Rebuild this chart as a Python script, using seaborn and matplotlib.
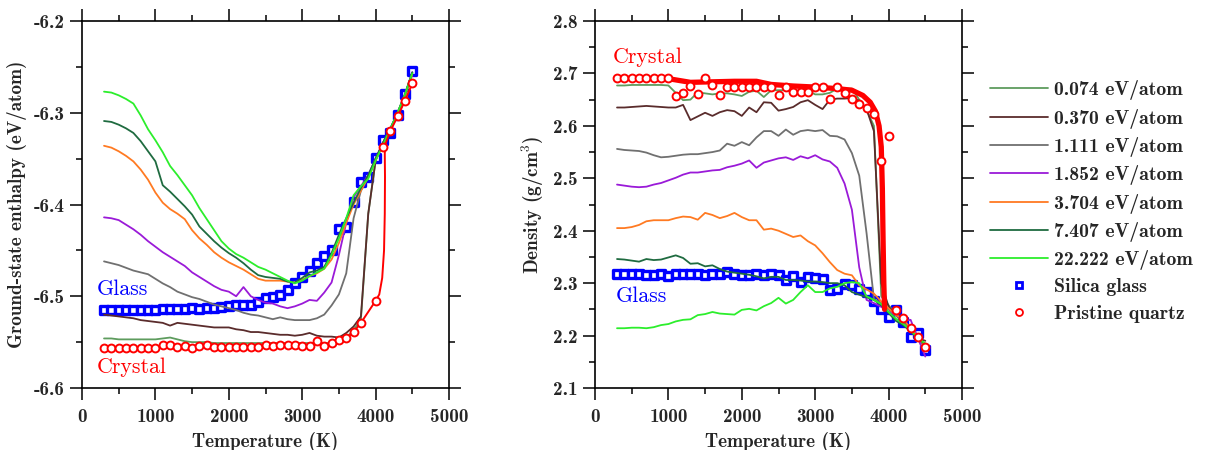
import numpy as np
import pandas as pd
import matplotlib
matplotlib.use("Agg")
import matplotlib.pyplot as plt
import seaborn as sns
from matplotlib.lines import Line2D
from matplotlib.ticker import MultipleLocator

# ---------------- data ----------------
temperature = list(range(300, 4600, 100))  # 43 points

doses = ["0.074 eV/atom", "0.370 eV/atom", "1.111 eV/atom", "1.852 eV/atom",
         "3.704 eV/atom", "7.407 eV/atom", "22.222 eV/atom"]
dose_colors = ["#5e9c5e", "#5a2c2c", "#707070", "#9a1ad8", "#ff7a22", "#1f6b40", "#2cee2c"]

# Ground-state enthalpy (eV/atom)
h_0074 = [-6.546, -6.546, -6.547, -6.547, -6.547, -6.547, -6.547, -6.547, -6.546, -6.545,
          -6.547, -6.549, -6.550, -6.550, -6.550, -6.551, -6.551, -6.551, -6.551, -6.551,
          -6.551, -6.551, -6.551, -6.551, -6.551, -6.551, -6.551, -6.551, -6.551, -6.551,
          -6.551, -6.551, -6.550, -6.545, -6.537, -6.525, -6.410, -6.352, -6.333, -6.318,
          -6.301, -6.281, -6.257]
h_0370 = [-6.520, -6.521, -6.522, -6.523, -6.524, -6.526, -6.527, -6.528, -6.529, -6.532,
          -6.529, -6.530, -6.531, -6.532, -6.533, -6.534, -6.534, -6.534, -6.536, -6.537,
          -6.539, -6.539, -6.540, -6.541, -6.542, -6.542, -6.543, -6.542, -6.540, -6.543,
          -6.544, -6.544, -6.545, -6.540, -6.533, -6.522, -6.410, -6.352, -6.333, -6.318,
          -6.302, -6.282, -6.258]
h_1111 = [-6.462, -6.464, -6.466, -6.469, -6.472, -6.474, -6.476, -6.481, -6.486, -6.490,
          -6.495, -6.498, -6.501, -6.503, -6.506, -6.509, -6.511, -6.513, -6.515, -6.518,
          -6.520, -6.521, -6.523, -6.525, -6.523, -6.525, -6.526, -6.526, -6.526, -6.524,
          -6.520, -6.510, -6.498, -6.475, -6.415, -6.385, -6.370, -6.350, -6.333, -6.318,
          -6.300, -6.280, -6.256]
h_1852 = [-6.414, -6.415, -6.417, -6.422, -6.427, -6.433, -6.440, -6.446, -6.452, -6.457,
          -6.462, -6.467, -6.474, -6.479, -6.484, -6.489, -6.493, -6.495, -6.500, -6.490,
          -6.500, -6.504, -6.507, -6.508, -6.511, -6.513, -6.511, -6.508, -6.504, -6.505,
          -6.496, -6.485, -6.455, -6.420, -6.392, -6.380, -6.368, -6.350, -6.333, -6.318,
          -6.300, -6.280, -6.256]
h_3704 = [-6.336, -6.338, -6.342, -6.347, -6.353, -6.362, -6.373, -6.387, -6.398, -6.405,
          -6.410, -6.416, -6.428, -6.437, -6.444, -6.452, -6.458, -6.463, -6.467, -6.471,
          -6.476, -6.481, -6.483, -6.483, -6.483, -6.484, -6.485, -6.482, -6.478, -6.475,
          -6.470, -6.460, -6.442, -6.420, -6.400, -6.385, -6.370, -6.352, -6.335, -6.320,
          -6.302, -6.282, -6.258]
h_7407 = [-6.309, -6.310, -6.313, -6.317, -6.322, -6.331, -6.342, -6.353, -6.379, -6.386,
          -6.394, -6.402, -6.411, -6.424, -6.432, -6.440, -6.447, -6.453, -6.458, -6.464,
          -6.471, -6.477, -6.479, -6.480, -6.481, -6.484, -6.485, -6.480, -6.474, -6.472,
          -6.468, -6.453, -6.433, -6.415, -6.398, -6.382, -6.368, -6.350, -6.333, -6.317,
          -6.300, -6.280, -6.256]
h_22222 = [-6.277, -6.278, -6.281, -6.285, -6.290, -6.303, -6.318, -6.330, -6.343, -6.358,
           -6.368, -6.379, -6.390, -6.404, -6.416, -6.428, -6.440, -6.448, -6.454, -6.458,
           -6.463, -6.468, -6.471, -6.475, -6.479, -6.483, -6.486, -6.483, -6.478, -6.474,
           -6.470, -6.455, -6.437, -6.415, -6.390, -6.380, -6.372, -6.352, -6.335, -6.318,
           -6.300, -6.280, -6.257]
h_glass = [-6.515, -6.515, -6.515, -6.515, -6.515, -6.515, -6.515, -6.515, -6.514, -6.514,
           -6.514, -6.514, -6.513, -6.514, -6.513, -6.513, -6.512, -6.511, -6.510, -6.510,
           -6.509, -6.506, -6.502, -6.501, -6.499, -6.493, -6.486, -6.479, -6.473, -6.464,
           -6.456, -6.450, -6.427, -6.425, -6.397, -6.375, -6.370, -6.349, -6.330, -6.322,
           -6.302, -6.280, -6.254]
h_quartz = [-6.556, -6.556, -6.556, -6.556, -6.556, -6.556, -6.556, -6.556, -6.553, -6.553,
            -6.555, -6.554, -6.556, -6.554, -6.553, -6.555, -6.555, -6.555, -6.555, -6.555,
            -6.555, -6.555, -6.553, -6.554, -6.553, -6.553, -6.553, -6.554, -6.554, -6.549,
            -6.554, -6.551, -6.548, -6.546, -6.539, -6.529, np.nan, -6.505, -6.337, -6.320,
            -6.304, -6.287, -6.268]
# smooth connecting curve of the quartz enthalpy above 4000 K
h_quartz_curve_T = [4000, 4050, 4090, 4115, 4125, 4128, 4125, 4130, 4200, 4300, 4400, 4500]
h_quartz_curve_E = [-6.505, -6.498, -6.480, -6.450, -6.410, -6.370, -6.345, -6.335, -6.320,
                    -6.304, -6.287, -6.268]

# Density (g/cm^3)
d_0074 = [2.677, 2.677, 2.678, 2.678, 2.678, 2.678, 2.678, 2.677, 2.663, 2.649,
          2.650, 2.664, 2.662, 2.660, 2.662, 2.662, 2.660, 2.657, 2.665, 2.667,
          2.655, 2.668, 2.668, 2.668, 2.666, 2.668, 2.667, 2.660, 2.660, 2.663,
          2.671, 2.671, 2.671, 2.650, 2.630, 2.600, 2.275, 2.258, 2.240, 2.225,
          2.210, 2.193, 2.178]
d_0370 = [2.635, 2.635, 2.636, 2.637, 2.638, 2.637, 2.636, 2.635, 2.635, 2.640,
          2.611, 2.618, 2.625, 2.619, 2.626, 2.630, 2.628, 2.619, 2.635, 2.626,
          2.645, 2.644, 2.629, 2.632, 2.636, 2.645, 2.649, 2.640, 2.632, 2.650,
          2.652, 2.652, 2.653, 2.648, 2.632, 2.590, 2.300, 2.255, 2.240, 2.228,
          2.212, 2.195, 2.190]
d_1111 = [2.556, 2.554, 2.553, 2.552, 2.549, 2.544, 2.540, 2.541, 2.543, 2.545,
          2.546, 2.546, 2.548, 2.550, 2.553, 2.566, 2.562, 2.569, 2.563, 2.578,
          2.590, 2.590, 2.581, 2.593, 2.583, 2.590, 2.592, 2.590, 2.592, 2.581,
          2.580, 2.574, 2.548, 2.505, 2.395, 2.270, 2.262, 2.250, 2.238, 2.225,
          2.210, 2.193, 2.180]
d_1852 = [2.488, 2.486, 2.484, 2.483, 2.484, 2.488, 2.491, 2.496, 2.501, 2.507,
          2.511, 2.511, 2.513, 2.515, 2.516, 2.521, 2.524, 2.528, 2.534, 2.520,
          2.530, 2.534, 2.538, 2.540, 2.535, 2.542, 2.538, 2.544, 2.536, 2.532,
          2.520, 2.490, 2.440, 2.330, 2.268, 2.262, 2.255, 2.245, 2.240, 2.228,
          2.230, 2.195, 2.160]
d_3704 = [2.405, 2.405, 2.407, 2.411, 2.418, 2.420, 2.420, 2.420, 2.424, 2.427,
          2.426, 2.421, 2.434, 2.430, 2.424, 2.428, 2.434, 2.426, 2.420, 2.420,
          2.402, 2.404, 2.400, 2.394, 2.388, 2.391, 2.380, 2.372, 2.357, 2.340,
          2.325, 2.318, 2.315, 2.296, 2.288, 2.280, 2.265, 2.252, 2.239, 2.232,
          2.213, 2.198, 2.180]
d_7407 = [2.346, 2.345, 2.343, 2.341, 2.346, 2.344, 2.345, 2.349, 2.353, 2.348,
          2.337, 2.338, 2.332, 2.334, 2.327, 2.322, 2.320, 2.318, 2.316, 2.313,
          2.309, 2.312, 2.312, 2.306, 2.306, 2.305, 2.303, 2.303, 2.302, 2.300,
          2.300, 2.296, 2.283, 2.278, 2.273, 2.268, 2.258, 2.243, 2.228, 2.220,
          2.208, 2.195, 2.183]
d_22222 = [2.214, 2.214, 2.215, 2.215, 2.214, 2.216, 2.220, 2.222, 2.227, 2.230,
           2.231, 2.239, 2.241, 2.245, 2.242, 2.241, 2.240, 2.249, 2.251, 2.248,
           2.256, 2.262, 2.272, 2.261, 2.268, 2.283, 2.296, 2.283, 2.283, 2.290,
           2.293, 2.300, 2.302, 2.300, 2.275, 2.268, 2.260, 2.245, 2.232, 2.222,
           2.210, 2.195, 2.185]
d_glass = [2.318, 2.318, 2.318, 2.318, 2.315, 2.316, 2.317, 2.313, 2.317, 2.317,
           2.317, 2.317, 2.316, 2.317, 2.317, 2.322, 2.318, 2.316, 2.316, 2.318,
           2.315, 2.318, 2.315, 2.306, 2.313, 2.302, 2.312, 2.309, 2.307, 2.286,
           2.289, 2.299, 2.296, 2.289, 2.283, 2.266, 2.250, 2.235, 2.249, 2.226,
           2.198, 2.204, 2.172]
d_quartz = [2.691, 2.691, 2.691, 2.691, 2.691, 2.691, 2.691, 2.691, 2.657, 2.6625,
            2.676, 2.661, 2.691, 2.677, 2.659, 2.675, 2.675, 2.675, 2.675, 2.675,
            2.675, 2.675, 2.659, 2.675, 2.664, 2.664, 2.664, 2.675, 2.675, 2.652,
            2.675, 2.662, 2.651, 2.641, 2.635, 2.622, 2.533, 2.581, 2.248, 2.233,
            2.214, 2.198, 2.179]
# thick fitted curve for crystal density
d_fit_T = [300, 1000, 1300, 1600, 1900, 2200, 2400, 2700, 3000, 3300, 3500, 3650, 3750,
           3820, 3870, 3900, 3915, 3925, 3935, 3945]
d_fit_D = [2.691, 2.690, 2.683, 2.684, 2.685, 2.685, 2.679, 2.676, 2.674, 2.671, 2.668,
           2.658, 2.645, 2.628, 2.600, 2.560, 2.480, 2.380, 2.300, 2.250]

h_series = [h_0074, h_0370, h_1111, h_1852, h_3704, h_7407, h_22222]
d_series = [d_0074, d_0370, d_1111, d_1852, d_3704, d_7407, d_22222]

rows = []
for dose, hs, ds in zip(doses, h_series, d_series):
    for t, h, d in zip(temperature, hs, ds):
        rows.append({"T": t, "H": h, "D": d, "dose": dose})
df = pd.DataFrame(rows)
palette = dict(zip(doses, dose_colors))

# ---------------- style ----------------
sns.set_style("ticks")
plt.rcParams["font.family"] = ["cmb10", "DejaVu Serif"]
plt.rcParams["mathtext.fontset"] = "cm"
plt.rcParams["axes.unicode_minus"] = False
plt.rcParams["axes.linewidth"] = 1.2

FS = 13.8
fig = plt.figure(figsize=(12.08, 4.5), dpi=100)
axL = fig.add_axes([82 / 1208, 62 / 450, 367 / 1208, 367 / 450])
axR = fig.add_axes([595 / 1208, 62 / 450, 367 / 1208, 367 / 450])

def style_axis(ax, ymin, ymax, yticks, ylabels):
    ax.set_xlim(0, 5000)
    ax.set_ylim(ymin, ymax)
    ax.set_xticks([0, 1000, 2000, 3000, 4000, 5000],
                  ["0", "1000", "2000", "3000", "4000", "5000"])
    ax.set_yticks(yticks, ylabels)
    ax.xaxis.set_minor_locator(MultipleLocator(500))
    ax.yaxis.set_minor_locator(MultipleLocator(0.05))
    ax.tick_params(which="both", direction="out", top=True, right=True,
                   width=1.1, color="black")
    ax.tick_params(which="major", length=8.5, labelsize=FS)
    ax.tick_params(which="minor", length=4.3)
    ax.tick_params(axis="x", which="major", pad=6)
    ax.tick_params(axis="y", which="major", pad=4)
    for s in ax.spines.values():
        s.set_visible(True)
        s.set_color("black")
        s.set_linewidth(1.2)
    ax.set_xlabel("Temperature (K)", fontsize=FS, labelpad=4)

# Left panel
sns.scatterplot(x=temperature, y=h_glass, marker="s", s=40, facecolor="white",
                edgecolor="#0000ff", linewidth=2.4, ax=axL, zorder=2.5)
sns.lineplot(data=df, x="T", y="H", hue="dose", hue_order=doses, palette=palette,
             estimator=None, sort=False, linewidth=1.3, legend=False, ax=axL, zorder=3)
q_T = [t for t, h in zip(temperature, h_quartz) if not np.isnan(h) and t <= 4000]
q_H = [h for t, h in zip(temperature, h_quartz) if not np.isnan(h) and t <= 4000]
sns.lineplot(x=q_T + h_quartz_curve_T[1:], y=q_H + h_quartz_curve_E[1:], sort=False,
             estimator=None, color="#ff0000", linewidth=1.4, ax=axL, zorder=3.5)
sns.scatterplot(x=temperature, y=h_quartz, marker="o", s=32, facecolor="white",
                edgecolor="#ff0000", linewidth=1.4, ax=axL, zorder=4)
style_axis(axL, -6.6, -6.2, [-6.6, -6.5, -6.4, -6.3, -6.2],
           ["-6.6", "-6.5", "-6.4", "-6.3", "-6.2"])
axL.set_ylabel("Ground-state enthalpy (eV/atom)", fontsize=FS, labelpad=5)
axL.text(204, -6.492, "Glass", color="#0000ff", fontsize=15.8, family="cmr10",
         ha="left", va="center")
axL.text(204, -6.577, "Crystal", color="#ff0000", fontsize=15.8, family="cmr10",
         ha="left", va="center")

# Right panel
sns.scatterplot(x=temperature, y=d_glass, marker="s", s=40, facecolor="white",
                edgecolor="#0000ff", linewidth=2.4, ax=axR, zorder=2.5)
sns.lineplot(data=df, x="T", y="D", hue="dose", hue_order=doses, palette=palette,
             estimator=None, sort=False, linewidth=1.3, legend=False, ax=axR, zorder=3)
sns.lineplot(x=d_fit_T, y=d_fit_D, sort=False, estimator=None, color="#ff0000",
             linewidth=3.8, ax=axR, zorder=3.5)
sns.scatterplot(x=temperature, y=d_quartz, marker="o", s=32, facecolor="white",
                edgecolor="#ff0000", linewidth=1.4, ax=axR, zorder=4)
style_axis(axR, 2.1, 2.8, [2.1, 2.2, 2.3, 2.4, 2.5, 2.6, 2.7, 2.8],
           ["2.1", "2.2", "2.3", "2.4", "2.5", "2.6", "2.7", "2.8"])
axR.set_ylabel(r"Density (g/cm$^{\mathbf{3}}$)", fontsize=FS, labelpad=5)
axR.text(245, 2.7315, "Crystal", color="#ff0000", fontsize=15.8, family="cmr10",
         ha="left", va="center")
axR.text(286, 2.275, "Glass", color="#0000ff", fontsize=15.8, family="cmr10",
         ha="left", va="center")

# Legend
handles = [Line2D([], [], color=c, lw=1.3) for c in dose_colors]
handles.append(Line2D([], [], marker="s", ls="none", mfc="white", mec="#0000ff",
                      mew=2.0, ms=5))
handles.append(Line2D([], [], marker="o", ls="none", mfc="white", mec="#ff0000",
                      mew=1.3, ms=5))
labels = doses + ["Silica glass", "Pristine quartz"]
LFS = 14.2
fig.legend(handles, labels, loc="center left", bbox_to_anchor=(982 / 1208, 1 - 201.5 / 450),
           frameon=False, fontsize=LFS, handlelength=58 / (LFS * 100 / 72),
           handletextpad=6 / (LFS * 100 / 72), labelspacing=0.42, borderaxespad=0.0)

fig.savefig("out.png", dpi=100)
